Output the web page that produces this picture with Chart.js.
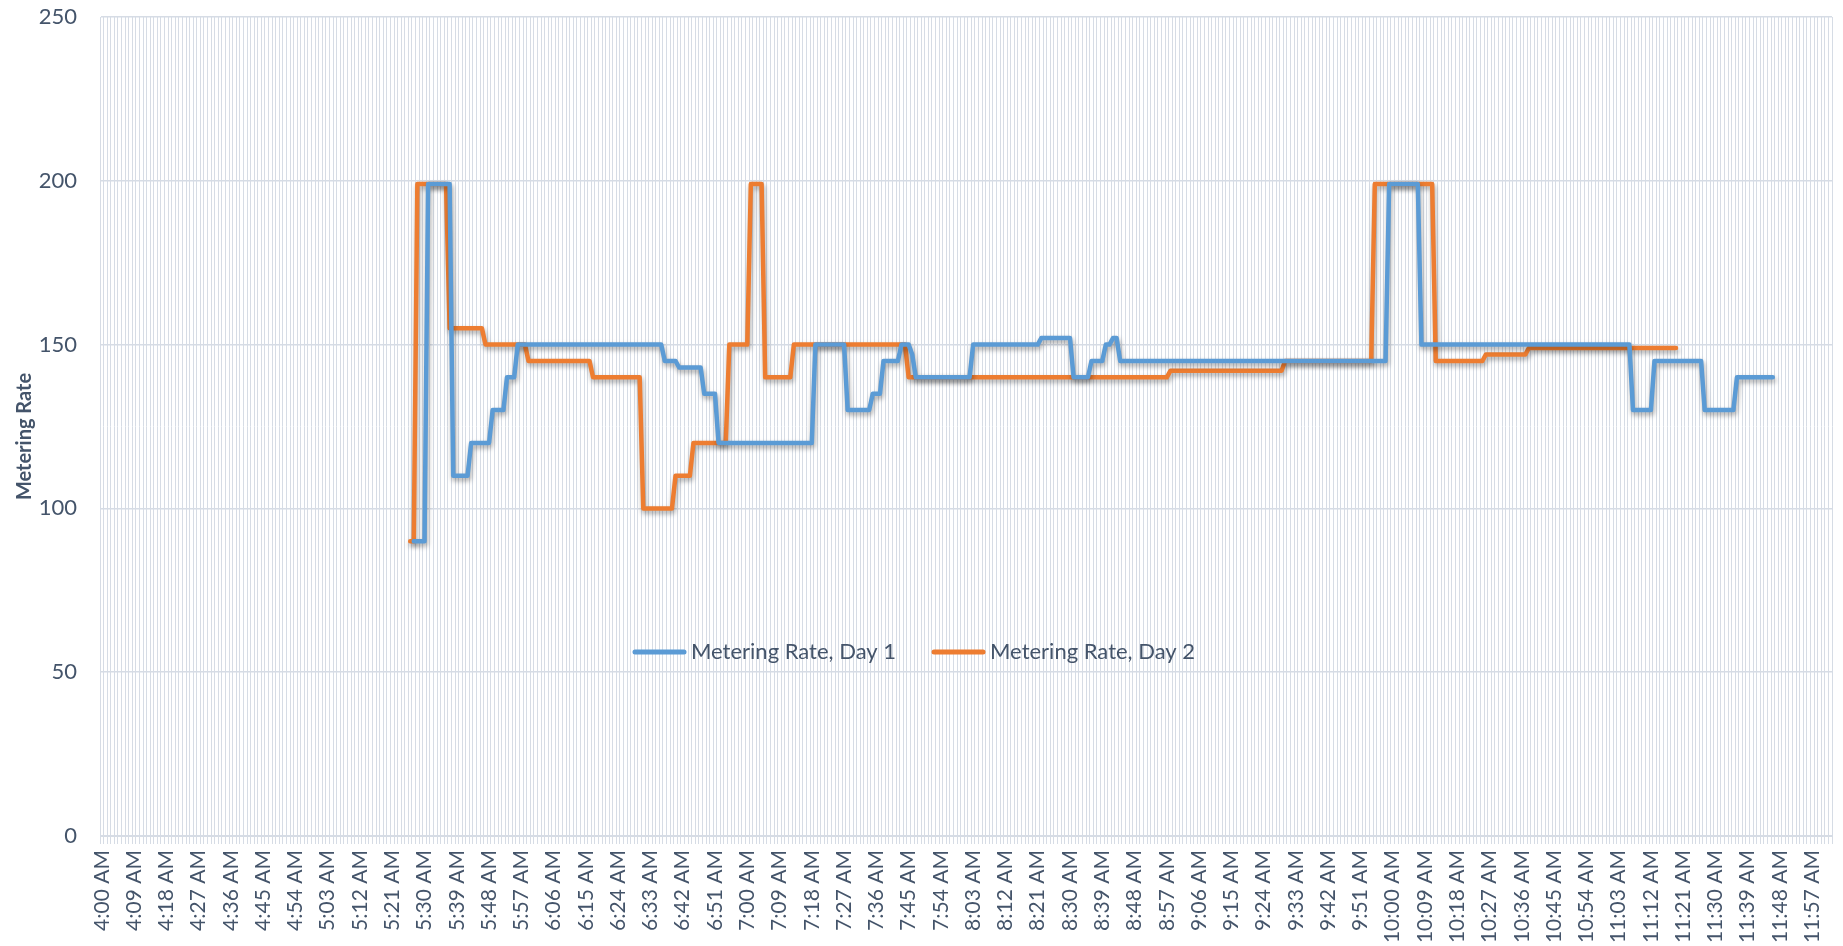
<!DOCTYPE html>
<html>
<head>
<meta charset="utf-8">
<script src="https://cdn.jsdelivr.net/npm/chart.js@4.4.1/dist/chart.umd.min.js"></script>
<style>
  html, body { margin: 0; padding: 0; background: #ffffff; }
  #wrap { width: 1843px; height: 946px; }
</style>
</head>
<body>
<div id="wrap"><canvas id="myChart"></canvas></div>
<script>
"use strict";

// one category per minute, 4:00 AM onwards
const firstHour = 4;
const minuteCount = 483;
const tickEvery = 9;

// Day 1: vertices of the line (time, rate)
const day1Times = [
  "5:27 AM", "5:30 AM", "5:31 AM", "5:37 AM", "5:38 AM", "5:42 AM", "5:43 AM", "5:48 AM",
  "5:49 AM", "5:52 AM", "5:53 AM", "5:55 AM", "5:56 AM", "6:36 AM", "6:37 AM", "6:40 AM",
  "6:41 AM", "6:47 AM", "6:48 AM", "6:51 AM", "6:52 AM", "7:18 AM", "7:19 AM", "7:27 AM",
  "7:28 AM", "7:34 AM", "7:35 AM", "7:37 AM", "7:38 AM", "7:42 AM", "7:43 AM", "7:45 AM",
  "7:46 AM", "7:47 AM", "8:02 AM", "8:03 AM", "8:21 AM", "8:22 AM", "8:30 AM", "8:31 AM",
  "8:35 AM", "8:36 AM", "8:39 AM", "8:40 AM", "8:41 AM", "8:42 AM", "8:43 AM", "8:44 AM",
  "9:58 AM", "9:59 AM", "10:07 AM", "10:08 AM", "11:06 AM", "11:07 AM", "11:12 AM", "11:13 AM",
  "11:26 AM", "11:27 AM", "11:35 AM", "11:36 AM", "11:46 AM",
];
const day1Values = [
  90, 90, 199, 199, 110, 110, 120, 120,
  130, 130, 140, 140, 150, 150, 145, 145,
  143, 143, 135, 135, 120, 120, 150, 150,
  130, 130, 135, 135, 145, 145, 150, 150,
  147, 140, 140, 150, 150, 152, 152, 140,
  140, 145, 145, 150, 150, 152, 152, 145,
  145, 199, 199, 150, 150, 130, 130, 145,
  145, 130, 130, 140, 140,
];

// Day 2
const day2Times = [
  "5:26 AM", "5:27 AM", "5:28 AM", "5:36 AM", "5:37 AM", "5:46 AM", "5:47 AM", "5:58 AM",
  "5:59 AM", "6:16 AM", "6:17 AM", "6:30 AM", "6:31 AM", "6:39 AM", "6:40 AM", "6:44 AM",
  "6:45 AM", "6:54 AM", "6:55 AM", "7:00 AM", "7:01 AM", "7:04 AM", "7:05 AM", "7:12 AM",
  "7:13 AM", "7:44 AM", "7:45 AM", "8:57 AM", "8:58 AM", "9:29 AM", "9:30 AM", "9:54 AM",
  "9:55 AM", "10:11 AM", "10:12 AM", "10:25 AM", "10:26 AM", "10:37 AM", "10:38 AM", "11:19 AM",
];
const day2Values = [
  90, 90, 199, 199, 155, 155, 150, 150,
  145, 145, 140, 140, 100, 100, 110, 110,
  120, 120, 150, 150, 199, 199, 140, 140,
  150, 150, 140, 140, 142, 142, 145, 145,
  199, 199, 145, 145, 147, 147, 149, 149,
];

const yTicks = [0, 50, 100, 150, 200, 250];
const yTitle = "Metering Rate";

const textColor = "#44546a";
const gridColor = "#d6dce5";
const fontFamily = "Lato, 'Noto Sans', sans-serif";

function minuteLabel(i) {
  const h = firstHour + Math.floor(i / 60);
  const m = i % 60;
  const hh = h > 12 ? h - 12 : h;
  return hh + ":" + String(m).padStart(2, "0") + " " + (h >= 12 ? "PM" : "AM");
}

const categories = [];
for (let i = 0; i < minuteCount; i++) categories.push(minuteLabel(i));

function toPoints(times, values) {
  return times.map((t, i) => ({ x: t, y: values[i] }));
}

// *****plugins*****

const lineShadow = {
  id: "lineShadow",
  beforeDatasetDraw(chart) {
    const ctx = chart.ctx;
    ctx.save();
    ctx.shadowColor = "rgba(0, 0, 0, 0.35)";
    ctx.shadowBlur = 5;
    ctx.shadowOffsetX = 1;
    ctx.shadowOffsetY = 3;
  },
  afterDatasetDraw(chart) {
    chart.ctx.restore();
  },
};

// axis title drawn by hand so the bold size sticks
const axisTitle = {
  id: "axisTitle",
  afterDraw(chart) {
    const ctx = chart.ctx;
    const area = chart.chartArea;
    ctx.save();
    ctx.translate(31, (area.top + area.bottom) / 2 + 10);
    ctx.rotate(-Math.PI / 2);
    ctx.font = "bold 20px " + fontFamily;
    ctx.fillStyle = textColor;
    ctx.textAlign = "center";
    ctx.textBaseline = "alphabetic";
    ctx.fillText(yTitle, 0, 0);
    ctx.restore();
  },
};

// legend floats inside the plot like in the original
const floatingLegend = {
  id: "floatingLegend",
  afterDraw(chart) {
    const ctx = chart.ctx;
    let x = 632;
    const y = 652;
    ctx.save();
    ctx.font = "22px " + fontFamily;
    ctx.textBaseline = "middle";
    chart.data.datasets.forEach((ds) => {
      ctx.strokeStyle = ds.borderColor;
      ctx.lineWidth = 5;
      ctx.lineCap = "round";
      ctx.beginPath();
      ctx.moveTo(x + 3, y);
      ctx.lineTo(x + 52, y);
      ctx.stroke();
      ctx.fillStyle = textColor;
      ctx.fillText(ds.label, x + 59, y);
      x += 59 + ctx.measureText(ds.label).width + 35;
    });
    ctx.restore();
  },
};

const ctx = document.getElementById("myChart");
const myChart = new Chart(ctx, {
  type: "line",
  data: {
    labels: categories,
    datasets: [
      {
        label: "Metering Rate, Day 1",
        data: toPoints(day1Times, day1Values),
        borderColor: "#5b9bd5",
        backgroundColor: "#5b9bd5",
        borderWidth: 4.5,
        borderJoinStyle: "round",
        borderCapStyle: "round",
        pointRadius: 0,
        tension: 0,
      },
      {
        label: "Metering Rate, Day 2",
        data: toPoints(day2Times, day2Values),
        borderColor: "#ed7d31",
        backgroundColor: "#ed7d31",
        borderWidth: 4.5,
        borderJoinStyle: "round",
        borderCapStyle: "round",
        pointRadius: 0,
        tension: 0,
      },
    ],
  },
  options: {
    responsive: true,
    maintainAspectRatio: false,
    animation: false,
    devicePixelRatio: 1,
    layout: {
      padding: { left: 0, right: 11, top: 17, bottom: 0 },
    },
    plugins: {
      legend: { display: false },
      tooltip: { enabled: false },
    },
    scales: {
      x: {
        offset: true,
        grid: {
          offset: true,
          color: gridColor,
          lineWidth: 1,
          tickLength: 8,
        },
        border: { color: gridColor },
        ticks: {
          autoSkip: false,
          minRotation: 90,
          maxRotation: 90,
          padding: 6,
          color: textColor,
          font: { family: fontFamily, size: 21 },
          callback: function (value, index) {
            return index % tickEvery === 0 ? this.getLabelForValue(value) : "";
          },
        },
        afterFit(scale) {
          scale.height = 110;
          scale.paddingLeft = 0;
          scale.paddingRight = 0;
        },
      },
      y: {
        min: 0,
        max: 250,
        grid: {
          color: gridColor,
          lineWidth: 1.5,
          drawTicks: false,
        },
        border: { color: gridColor },
        afterBuildTicks(scale) {
          scale.ticks = yTicks.map((v) => ({ value: v }));
        },
        ticks: {
          padding: 23,
          color: textColor,
          font: { family: fontFamily, size: 22 },
        },
        afterFit(scale) {
          scale.width = 100;
          scale.paddingTop = 0;
          scale.paddingBottom = 0;
        },
      },
    },
  },
  plugins: [lineShadow, axisTitle, floatingLegend],
});
</script>
</body>
</html>
